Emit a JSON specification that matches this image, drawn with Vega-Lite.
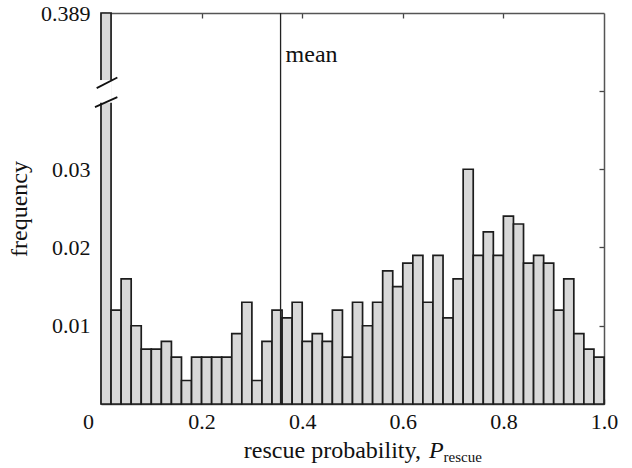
{
  "$schema": "https://vega.github.io/schema/vega-lite/v6.json",
  "width": 503,
  "height": 391,
  "autosize": "none",
  "padding": {"left": 101, "top": 13, "right": 28, "bottom": 64},
  "background": "white",
  "config": {
    "view": {"stroke": null},
    "font": "Liberation Serif",
    "axis": {
      "grid": false,
      "labelFont": "Liberation Serif",
      "labelFontSize": 22,
      "labelColor": "#111111",
      "titleFont": "Liberation Serif",
      "titleFontSize": 24,
      "titleFontWeight": "normal",
      "titleColor": "#111111",
      "domainColor": "#555555",
      "domainWidth": 1.5,
      "tickColor": "#444444",
      "tickWidth": 1.3,
      "tickSize": -5
    }
  },
  "datasets": {
    "bins": [
      {"bin_start": 0.00, "bin_end": 0.02, "frequency": 0.389},
      {"bin_start": 0.02, "bin_end": 0.04, "frequency": 0.012},
      {"bin_start": 0.04, "bin_end": 0.06, "frequency": 0.016},
      {"bin_start": 0.06, "bin_end": 0.08, "frequency": 0.010},
      {"bin_start": 0.08, "bin_end": 0.10, "frequency": 0.007},
      {"bin_start": 0.10, "bin_end": 0.12, "frequency": 0.007},
      {"bin_start": 0.12, "bin_end": 0.14, "frequency": 0.008},
      {"bin_start": 0.14, "bin_end": 0.16, "frequency": 0.006},
      {"bin_start": 0.16, "bin_end": 0.18, "frequency": 0.003},
      {"bin_start": 0.18, "bin_end": 0.20, "frequency": 0.006},
      {"bin_start": 0.20, "bin_end": 0.22, "frequency": 0.006},
      {"bin_start": 0.22, "bin_end": 0.24, "frequency": 0.006},
      {"bin_start": 0.24, "bin_end": 0.26, "frequency": 0.006},
      {"bin_start": 0.26, "bin_end": 0.28, "frequency": 0.009},
      {"bin_start": 0.28, "bin_end": 0.30, "frequency": 0.013},
      {"bin_start": 0.30, "bin_end": 0.32, "frequency": 0.003},
      {"bin_start": 0.32, "bin_end": 0.34, "frequency": 0.008},
      {"bin_start": 0.34, "bin_end": 0.36, "frequency": 0.012},
      {"bin_start": 0.36, "bin_end": 0.38, "frequency": 0.011},
      {"bin_start": 0.38, "bin_end": 0.40, "frequency": 0.013},
      {"bin_start": 0.40, "bin_end": 0.42, "frequency": 0.008},
      {"bin_start": 0.42, "bin_end": 0.44, "frequency": 0.009},
      {"bin_start": 0.44, "bin_end": 0.46, "frequency": 0.008},
      {"bin_start": 0.46, "bin_end": 0.48, "frequency": 0.012},
      {"bin_start": 0.48, "bin_end": 0.50, "frequency": 0.006},
      {"bin_start": 0.50, "bin_end": 0.52, "frequency": 0.013},
      {"bin_start": 0.52, "bin_end": 0.54, "frequency": 0.010},
      {"bin_start": 0.54, "bin_end": 0.56, "frequency": 0.013},
      {"bin_start": 0.56, "bin_end": 0.58, "frequency": 0.017},
      {"bin_start": 0.58, "bin_end": 0.60, "frequency": 0.015},
      {"bin_start": 0.60, "bin_end": 0.62, "frequency": 0.018},
      {"bin_start": 0.62, "bin_end": 0.64, "frequency": 0.019},
      {"bin_start": 0.64, "bin_end": 0.66, "frequency": 0.013},
      {"bin_start": 0.66, "bin_end": 0.68, "frequency": 0.019},
      {"bin_start": 0.68, "bin_end": 0.70, "frequency": 0.011},
      {"bin_start": 0.70, "bin_end": 0.72, "frequency": 0.016},
      {"bin_start": 0.72, "bin_end": 0.74, "frequency": 0.030},
      {"bin_start": 0.74, "bin_end": 0.76, "frequency": 0.019},
      {"bin_start": 0.76, "bin_end": 0.78, "frequency": 0.022},
      {"bin_start": 0.78, "bin_end": 0.80, "frequency": 0.019},
      {"bin_start": 0.80, "bin_end": 0.82, "frequency": 0.024},
      {"bin_start": 0.82, "bin_end": 0.84, "frequency": 0.023},
      {"bin_start": 0.84, "bin_end": 0.86, "frequency": 0.018},
      {"bin_start": 0.86, "bin_end": 0.88, "frequency": 0.019},
      {"bin_start": 0.88, "bin_end": 0.90, "frequency": 0.018},
      {"bin_start": 0.90, "bin_end": 0.92, "frequency": 0.012},
      {"bin_start": 0.92, "bin_end": 0.94, "frequency": 0.016},
      {"bin_start": 0.94, "bin_end": 0.96, "frequency": 0.009},
      {"bin_start": 0.96, "bin_end": 0.98, "frequency": 0.007},
      {"bin_start": 0.98, "bin_end": 1.00, "frequency": 0.006}
    ],
    "stats": [{"mean": 0.357}],
    "anchor": [{}]
  },
  "layer": [
    {
      "data": {"name": "bins"},
      "mark": {"type": "rect", "fill": "#d8d8d8", "stroke": "#1c1c1c", "strokeWidth": 1.7},
      "encoding": {
        "x": {
          "field": "bin_start", "type": "quantitative",
          "scale": {"domain": [0, 1], "nice": false, "zero": false},
          "axis": {
            "orient": "bottom",
            "values": [0, 0.2, 0.4, 0.6, 0.8, 1.0],
            "labelExpr": "datum.value == 0 ? '0' : format(datum.value, '.1f')",
            "labelFlush": false,
            "labelPadding": 12,
            "labelOffset": {"condition": {"test": "datum.value == 0", "value": -13}, "value": 0},
            "title": null
          }
        },
        "x2": {"field": "bin_end"},
        "y": {
          "field": "frequency", "type": "quantitative",
          "scale": {"domain": [0, 0.0423, 0.389], "range": [391, 60, 0], "nice": false, "zero": false},
          "axis": {
            "orient": "left",
            "values": [0.01, 0.02, 0.03, 0.04, 0.389],
            "labelExpr": "datum.value == 0.04 ? '' : format(datum.value, '~g')",
            "labelPadding": 16,
            "title": "frequency",
            "titlePadding": 9
          }
        },
        "y2": {"datum": 0}
      }
    },
    {
      "data": {"name": "anchor"},
      "mark": {"type": "rect", "fill": "white"},
      "encoding": {
        "x": {"datum": -0.006, "type": "quantitative", "scale": {"domain": [0, 1], "nice": false, "zero": false}, "axis": null},
        "x2": {"datum": 0.0218},
        "y": {
          "datum": 0.0385, "type": "quantitative",
          "scale": {"domain": [0, 0.0423, 0.389], "range": [391, 60, 0], "nice": false, "zero": false},
          "axis": {"orient": "right", "values": [0.01, 0.02, 0.03, 0.04], "labels": false, "title": null}
        },
        "y2": {"datum": 0.0414}
      }
    },
    {
      "data": {"name": "anchor"},
      "mark": {"type": "rule", "color": "#111111", "strokeWidth": 1.8},
      "encoding": {
        "x": {"datum": -0.0086, "type": "quantitative", "scale": {"domain": [0, 1], "nice": false, "zero": false}, "axis": null},
        "x2": {"datum": 0.0325},
        "y": {"datum": 0.04037, "type": "quantitative", "scale": {"domain": [0, 0.0423, 0.389], "range": [391, 60, 0], "nice": false, "zero": false}, "axis": null},
        "y2": {"datum": 0.04173}
      }
    },
    {
      "data": {"name": "anchor"},
      "mark": {"type": "rule", "color": "#111111", "strokeWidth": 1.8},
      "encoding": {
        "x": {"datum": -0.012, "type": "quantitative", "scale": {"domain": [0, 1], "nice": false, "zero": false}, "axis": null},
        "x2": {"datum": 0.0325},
        "y": {"datum": 0.03794, "type": "quantitative", "scale": {"domain": [0, 0.0423, 0.389], "range": [391, 60, 0], "nice": false, "zero": false}, "axis": null},
        "y2": {"datum": 0.03922}
      }
    },
    {
      "data": {"name": "stats"},
      "mark": {"type": "rule", "color": "#222222", "strokeWidth": 1.3},
      "encoding": {
        "x": {
          "field": "mean", "type": "quantitative",
          "scale": {"domain": [0, 1], "nice": false, "zero": false},
          "axis": {"orient": "top", "values": [0.2, 0.4, 0.6, 0.8], "labels": false, "title": null}
        }
      }
    },
    {
      "data": {"name": "stats"},
      "mark": {"type": "text", "text": "mean", "align": "left", "baseline": "alphabetic", "dx": 5, "font": "Liberation Serif", "fontSize": 24, "color": "#111111"},
      "encoding": {
        "x": {"field": "mean", "type": "quantitative", "scale": {"domain": [0, 1], "nice": false, "zero": false}, "axis": null},
        "y": {"datum": 0.106, "type": "quantitative", "scale": {"domain": [0, 0.0423, 0.389], "range": [391, 60, 0], "nice": false, "zero": false}, "axis": null}
      }
    },
    {
      "data": {"name": "anchor"},
      "mark": {"type": "text", "text": "rescue probability,", "align": "right", "baseline": "alphabetic", "font": "Liberation Serif", "fontSize": 24, "color": "#111111"},
      "encoding": {
        "x": {"datum": 0.636, "type": "quantitative", "scale": {"domain": [0, 1], "nice": false, "zero": false}, "axis": null},
        "y": {"datum": -0.0069, "type": "quantitative", "scale": {"domain": [0, 0.0423, 0.389], "range": [391, 60, 0], "nice": false, "zero": false}, "axis": null}
      }
    },
    {
      "data": {"name": "anchor"},
      "mark": {"type": "text", "text": "P", "align": "left", "baseline": "alphabetic", "font": "Liberation Serif", "fontStyle": "italic", "fontSize": 24, "color": "#111111"},
      "encoding": {
        "x": {"datum": 0.6521, "type": "quantitative", "scale": {"domain": [0, 1], "nice": false, "zero": false}, "axis": null},
        "y": {"datum": -0.0069, "type": "quantitative", "scale": {"domain": [0, 0.0423, 0.389], "range": [391, 60, 0], "nice": false, "zero": false}, "axis": null}
      }
    },
    {
      "data": {"name": "anchor"},
      "mark": {"type": "text", "text": "rescue", "align": "left", "baseline": "alphabetic", "font": "Liberation Serif", "fontSize": 15, "color": "#111111"},
      "encoding": {
        "x": {"datum": 0.681, "type": "quantitative", "scale": {"domain": [0, 1], "nice": false, "zero": false}, "axis": null},
        "y": {"datum": -0.00735, "type": "quantitative", "scale": {"domain": [0, 0.0423, 0.389], "range": [391, 60, 0], "nice": false, "zero": false}, "axis": null}
      }
    }
  ],
  "resolve": {"axis": {"x": "independent", "y": "independent"}}
}
